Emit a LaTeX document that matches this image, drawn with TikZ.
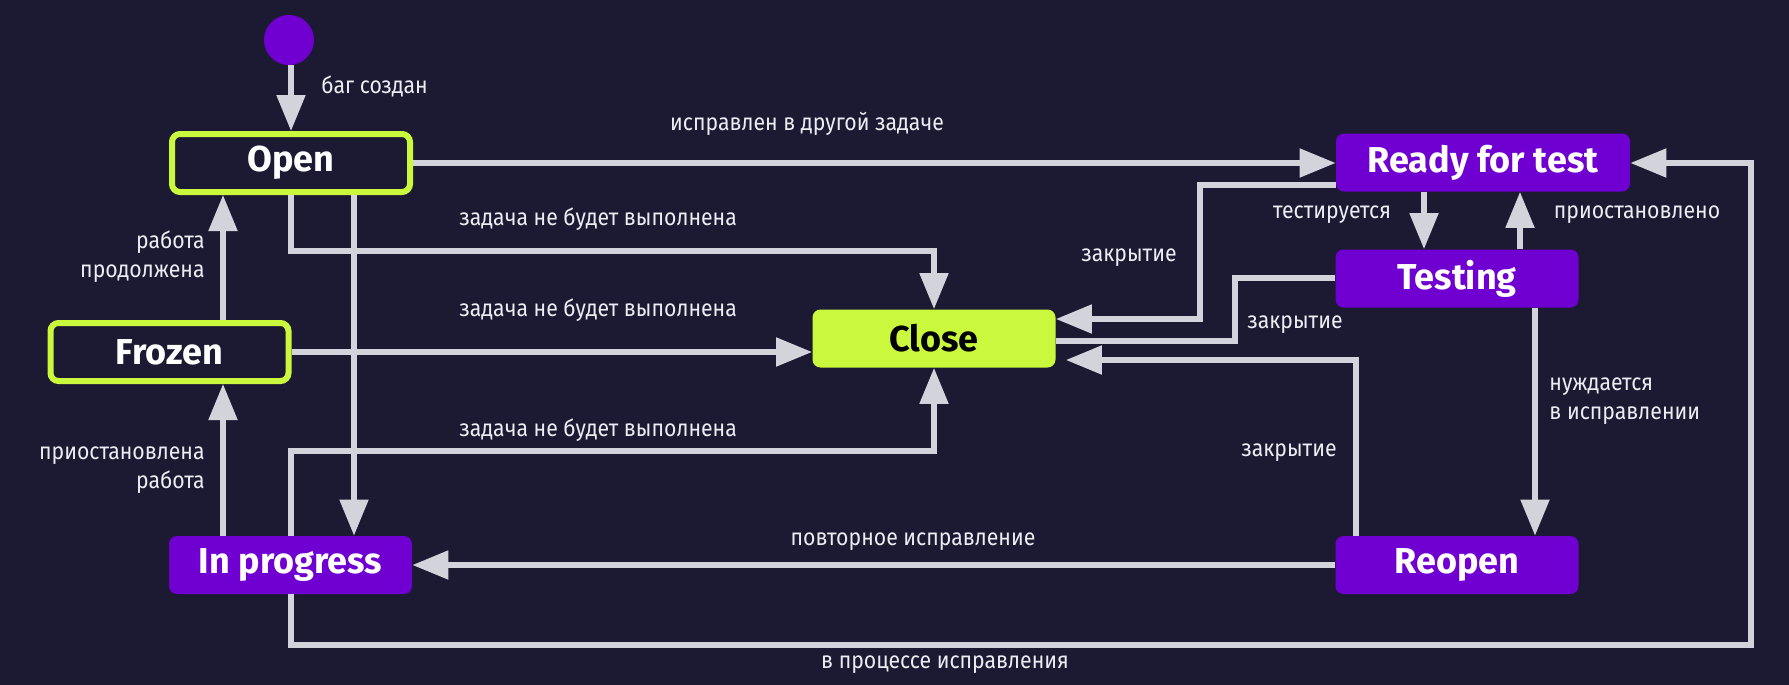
\documentclass[tikz,border=0pt]{standalone}
\usepackage{fontspec}
\setmainfont{Fira Sans}
\newfontfamily\labelfont[FakeStretch=0.9]{Fira Sans}
\usetikzlibrary{arrows.meta,calc}
\definecolor{bg}{HTML}{1C1A32}
\definecolor{lime}{HTML}{C9F83C}
\definecolor{violet}{HTML}{7000D2}
\definecolor{wire}{HTML}{D3D3DB}
\definecolor{lbl}{HTML}{ECECF2}
\tikzset{
  statebox/.style={rounded corners=4pt, inner sep=0pt, font=\bfseries\fontsize{18}{21}\selectfont},
  greenbox/.style={statebox, draw=lime, line width=3pt, fill=bg, text=white, minimum width=119pt, minimum height=29pt},
  purplebox/.style={statebox, fill=violet, text=white, minimum width=121.5pt, minimum height=29pt},
  closebox/.style={statebox, fill=lime, text=black, minimum width=121.5pt, minimum height=29pt},
  wirearrow/.style={draw=wire, line width=2.6pt, -{Triangle[length=18pt,width=14pt]}},
  wireplain/.style={draw=wire, line width=2.6pt},
  edgelabel/.style={text=lbl, font=\labelfont\fontsize{11.8}{14.5}\selectfont, inner sep=0pt, align=left},
}
\begin{document}
\begin{tikzpicture}[x=0.5pt,y=-0.5pt]
\useasboundingbox[fill=bg] (0,0) rectangle (1789,685);

% named coordinates for bends
\coordinate (xFO) at (223,0);
\coordinate (xOI) at (354,0);
\coordinate (yOC) at (0,251);
\coordinate (yIC) at (0,451);
\coordinate (yB) at (0,645);
\coordinate (xR) at (1751,0);
\coordinate (yRC) at (0,185);
\coordinate (xRC) at (1200,0);
\coordinate (yRCc) at (0,319);
\coordinate (yTC) at (0,278);
\coordinate (xTC) at (1235,0);
\coordinate (yTCc) at (0,341);
\coordinate (xRe) at (1356,0);
\coordinate (yReC) at (0,360);
\coordinate (xRT) at (1424,0);
\coordinate (xTR) at (1520,0);
\coordinate (xTRe) at (1535,0);
\coordinate (xIP) at (291,0);

% nodes
\node[circle, fill=violet, minimum size=25pt, inner sep=0pt] (start) at (289,40) {};
\node[greenbox] (open) at (291,163) {Open};
\node[greenbox] (frozen) at (169.5,352) {Frozen};
\node[closebox] (close) at (934,338.5) {Close};
\node[purplebox, minimum width=147pt] (ready) at (1483,162.5) {Ready for test};
\node[purplebox] (testing) at (1457,278.5) {Testing};
\node[purplebox] (inprog) at (290.5,565) {In progress};
\node[purplebox] (reopen) at (1457,565) {Reopen};

% connectors
\draw[wirearrow] (start.south -| open.north) -- (open.north);
\draw[wirearrow] (xFO |- frozen.north) -- (xFO |- open.south);
\draw[wirearrow] (xFO |- inprog.north) -- (xFO |- frozen.south);
\draw[wirearrow] (open.east) -- (open.east -| ready.west);
\draw[wirearrow] (open.south) |- (yOC -| close.north) -- (close.north);
\draw[wirearrow] (xOI |- open.south) -- (xOI |- inprog.north);
\draw[wirearrow] (frozen.east) -- (frozen.east -| close.west);
\draw[wirearrow] (xIP |- inprog.north) |- (yIC -| close.south) -- (close.south);
\draw[wirearrow] (xIP |- inprog.south) |- (yB -| xR) |- (open.east -| ready.east);
\draw[wirearrow] (yRC -| ready.west) -| (xRC |- yRCc) -- (yRCc -| close.east);
\draw[wireplain] (yTC -| testing.west) -| (xTC |- yTCc) -- (yTCc -| close.east);
\draw[wirearrow] (xRe |- reopen.north) |- ($(yReC -| close.east)+(10,0)$);
\draw[wirearrow] (xRT |- ready.south) -- (xRT |- testing.north);
\draw[wirearrow] (xTR |- testing.north) -- (xTR |- ready.south);
\draw[wirearrow] (xTRe |- testing.south) -- (xTRe |- reopen.north);
\draw[wirearrow] (reopen.west) -- (inprog.east);

% labels
\node[edgelabel, anchor=west] (l1) at (321,86) {баг создан};
\node[edgelabel] (l2) at (807,124) {исправлен в другой задаче};
\node[edgelabel, anchor=west] (l3) at (459,219) {задача не будет выполнена};
\node[edgelabel, anchor=west] (l4) at (459,310) {задача не будет выполнена};
\node[edgelabel, anchor=west] (l5) at (459,430) {задача не будет выполнена};
\node[edgelabel, anchor=east, align=right] (l6) at (205,257) {работа\\продолжена};
\node[edgelabel, anchor=east, align=right] (l7) at (205,470) {приостановлена\\работа};
\node[edgelabel] (l8) at (1129,258) {закрытие};
\node[edgelabel] (l9) at (1295,325) {закрытие};
\node[edgelabel] (l10) at (1289,453) {закрытие};
\node[edgelabel] (l11) at (1332,214.5) {тестируется};
\node[edgelabel] (l12) at (1637,214.5) {приостановлено};
\node[edgelabel, anchor=west] (l13) at (1549,401) {нуждается\\в исправлении};
\node[edgelabel] (l14) at (913,542) {повторное исправление};
\node[edgelabel] (l15) at (945,665) {в процессе исправления};
\end{tikzpicture}
\end{document}
